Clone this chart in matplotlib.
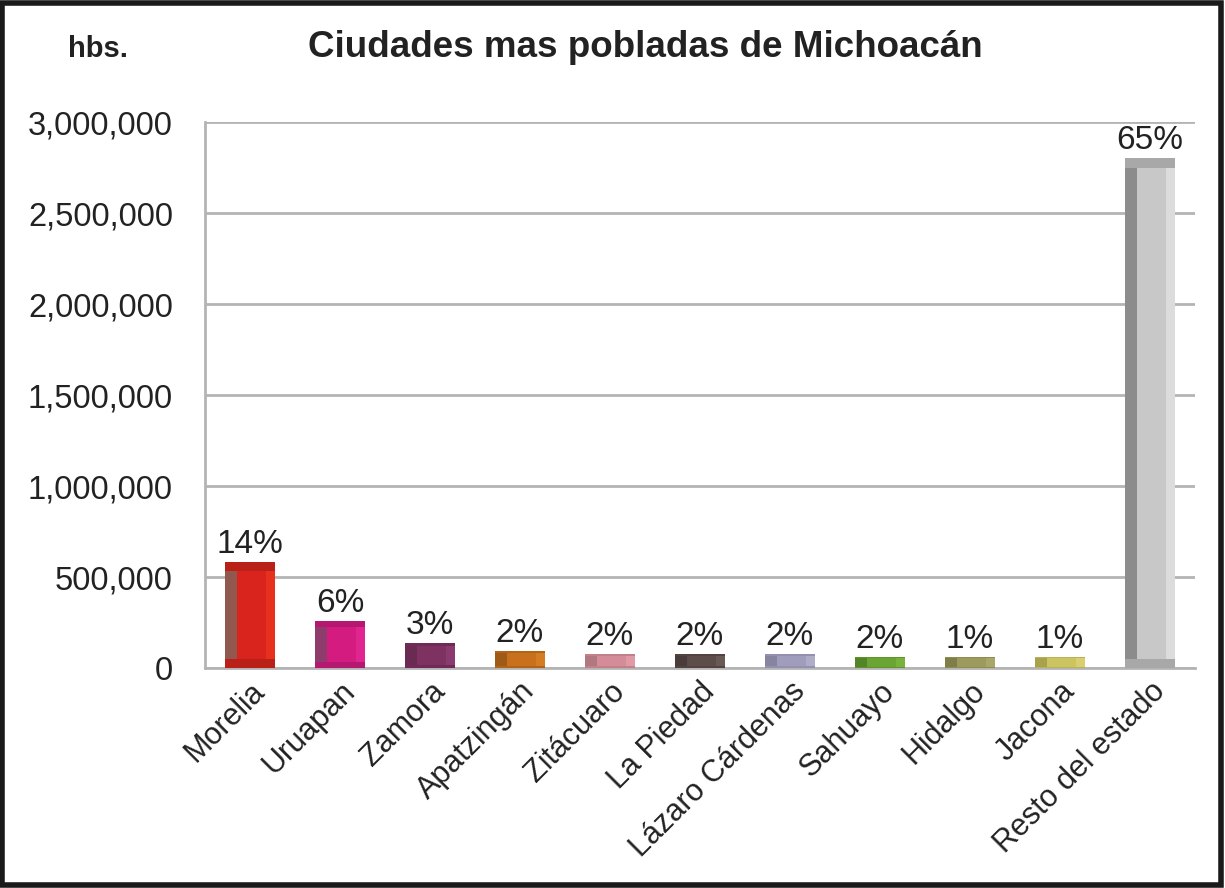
import matplotlib.pyplot as plt
import numpy as np
from matplotlib.patches import Rectangle

ciudades = ["Morelia", "Uruapan", "Zamora", "Apatzingán", "Zitácuaro", "La Piedad",
            "Lázaro Cárdenas", "Sahuayo", "Hidalgo", "Jacona", "Resto del estado"]
poblacion = [582000, 258000, 137000, 93000, 77000, 77000, 77000, 60000, 60000, 60000, 2800000]
porcentajes = ["14%", "6%", "3%", "2%", "2%", "2%", "2%", "2%", "1%", "1%", "65%"]
colores = ["#d8241c", "#d41c80", "#7e3262", "#c8701c", "#d48c98", "#5c4c4a",
           "#a09cbc", "#6aa432", "#9c9a5c", "#ccc460", "#c8c8c8"]
oscuros = ["#90584e", "#8e3c6c", "#6a2a52", "#a05a18", "#b07880", "#4a3c3a",
           "#8884a0", "#548428", "#807e48", "#a8a24c", "#8c8c8c"]
claros = ["#e8301e", "#e02490", "#8a3a6e", "#d47c24", "#e09aa6", "#685856",
          "#b0acc8", "#78b23c", "#a8a668", "#d8d070", "#dcdcdc"]
medios = ["#b82018", "#b41870", "#702a58", "#b06418", "#c28088", "#524240",
          "#9490b0", "#5e942c", "#8e8c52", "#bab258", "#a8a8a8"]

plt.rcParams['font.family'] = ['Liberation Sans', 'DejaVu Sans']

fig = plt.figure(figsize=(12.25, 8.88), dpi=100)
ax = fig.add_axes([0.1673, 0.2477, 0.8082, 0.6149])

x = np.arange(len(ciudades))
w = 0.56
pob = np.array(poblacion)
banda = np.minimum(50000, pob * 0.12)
ax.bar(x, pob, width=w, color=colores, zorder=3)
# bisel: franja oscura a la izquierda, clara a la derecha, bandas arriba y abajo
ax.bar(x - w / 2 + w * 0.12, pob, width=w * 0.24, color=oscuros, zorder=4)
ax.bar(x + w / 2 - w * 0.09, pob, width=w * 0.18, color=claros, zorder=4)
ax.bar(x, banda, bottom=pob - banda, width=w, color=medios, zorder=5)
ax.bar(x, banda, width=w, color=medios, zorder=5)

for xi, v, p in zip(x, poblacion, porcentajes):
    ax.text(xi, v + 12000, p, ha="center", va="bottom", fontsize=24, color="#222222", zorder=6)

ax.set_xlim(-0.5, len(ciudades) - 0.5)
ax.set_ylim(0, 3000000)
ax.set_yticks(np.arange(0, 3000001, 500000))
ax.set_yticklabels([f"{int(t):,}" for t in np.arange(0, 3000001, 500000)], fontsize=23.5, color="#222222")
ax.set_xticks(x)
ax.set_xticklabels(ciudades, rotation=45, ha="right", rotation_mode="anchor", fontsize=22, color="#222222")
ax.tick_params(axis="y", length=0, pad=23)
ax.tick_params(axis="x", length=0, pad=6)
ax.grid(axis="y", color="#b4b4b4", linewidth=2, zorder=1)
for s in ["top", "right"]:
    ax.spines[s].set_visible(False)
ax.spines["left"].set_color("#b4b4b4")
ax.spines["left"].set_linewidth(2)
ax.spines["bottom"].set_color("#b4b4b4")
ax.spines["bottom"].set_linewidth(2)

fig.text(0.527, 0.947, "Ciudades mas pobladas de Michoacán", ha="center", va="center",
         fontsize=26.5, fontweight="bold", color="#222222")
fig.text(0.08, 0.945, "hbs.", ha="center", va="center", fontsize=21, fontweight="bold", color="#222222")

fig.patches.append(Rectangle((0.002, 0.003), 0.995, 0.994, transform=fig.transFigure,
                             fill=False, edgecolor="#1a1a1a", linewidth=4))

fig.savefig("out.png", dpi=100)
